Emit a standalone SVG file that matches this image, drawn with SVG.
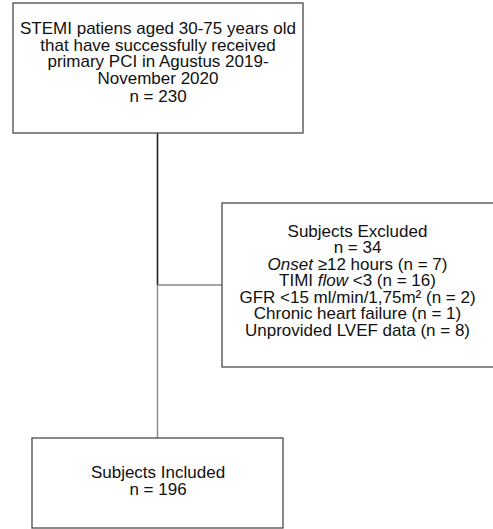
<svg xmlns="http://www.w3.org/2000/svg" width="493" height="529" viewBox="0 0 493 529">
<style>
.box{fill:#fff;stroke:#4a4a4a;stroke-width:1.3}
text{font-family:"Liberation Sans",Arial,sans-serif;font-size:17px;fill:#111;text-anchor:middle}
.dark{stroke:#222;stroke-width:1.6;fill:none}
.gray{stroke:#8a8a8a;stroke-width:1.4;fill:none}
</style>
<rect width="493" height="529" fill="#fff"/>
<g id="connectors">
<line class="dark" x1="157.5" y1="133" x2="157.5" y2="285"/>
<line class="gray" x1="157.5" y1="285" x2="157.5" y2="438"/>
<line class="gray" x1="157.5" y1="285" x2="222" y2="285"/>
</g>
<g id="node-initial">
<rect class="box" x="13" y="3" width="290" height="130"/>
<text x="158" y="34">STEMI patiens aged 30-75 years old</text>
<text x="158" y="50.5">that have successfully received</text>
<text x="158" y="67">primary PCI in Agustus 2019-</text>
<text x="158" y="83.5">November 2020</text>
<text x="158" y="101.5">n = 230</text>
</g>
<g id="node-excluded">
<rect class="box" x="222" y="203" width="273" height="164"/>
<text x="357.5" y="236.7">Subjects Excluded</text>
<text x="357.5" y="253.2">n = 34</text>
<text x="357.5" y="269.7"><tspan font-style="italic">Onset</tspan> ≥12 hours (n = 7)</text>
<text x="357.5" y="286.2">TIMI <tspan font-style="italic">flow</tspan> &lt;3 (n = 16)</text>
<text x="357.5" y="302.7">GFR &lt;15 ml/min/1,75m² (n = 2)</text>
<text x="357.5" y="319.2">Chronic heart failure (n = 1)</text>
<text x="357.5" y="335.7">Unprovided LVEF data (n = 8)</text>
</g>
<g id="node-included">
<rect class="box" x="32" y="438" width="251" height="90"/>
<text x="158" y="478.3">Subjects Included</text>
<text x="158" y="495">n = 196</text>
</g>
</svg>
